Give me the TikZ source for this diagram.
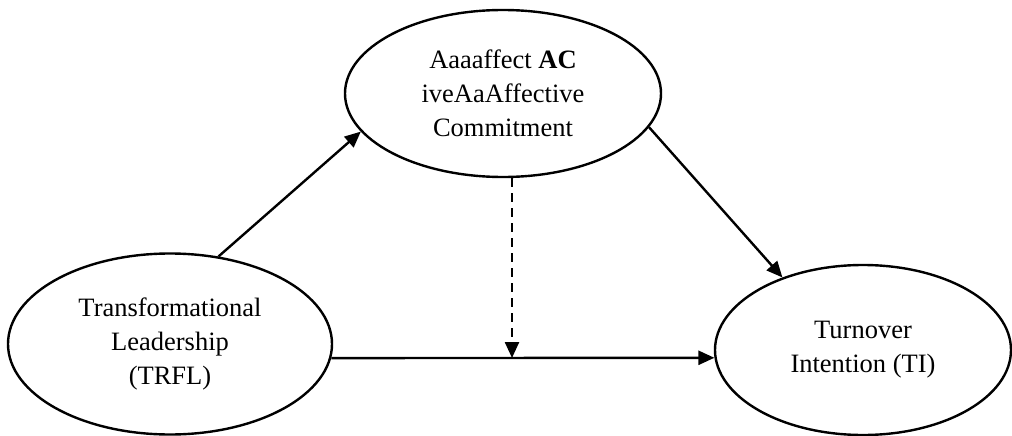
\documentclass[tikz,border=0pt]{standalone}
\usepackage{fontspec}
\setmainfont{Liberation Serif}
\usepackage{tikz}
\usetikzlibrary{positioning, shapes.geometric, arrows.meta, calc}

\begin{document}
\begin{tikzpicture}[x=1pt,y=-1pt,line width=2.4pt,
    var/.style={draw, ellipse, inner sep=0pt, align=center, font=\fontsize{26.5}{34}\selectfont},
    arr/.style={-{Triangle[length=16pt,width=14pt]}}]
    \useasboundingbox (0,0) rectangle (1012,436);
    % the three constructs
    \node[var, minimum width=316pt, minimum height=167pt] (ac) at (503,93.5) {Aaaaffect {\bfseries AC}\\iveAaAffective\\Commitment};
    \node[var, minimum width=324pt, minimum height=181pt] (trfl) at (170,344) {Transformational\\Leadership\\(TRFL)};
    \node[var, minimum width=296pt, minimum height=170pt] (ti) at (863,350) {Turnover\\Intention (TI)};
    \coordinate (mid) at (512,358);
    % paths
    \draw[arr] (trfl.61) -- (ac.195);
    \draw[arr] (ac.-13) -- (ti.138);
    \draw[arr] (trfl.-5) -- (ti.183);
    \draw[arr, dash pattern=on 9pt off 6pt] (ac.south -| mid) -- (mid);
  \end{tikzpicture}
\end{document}
